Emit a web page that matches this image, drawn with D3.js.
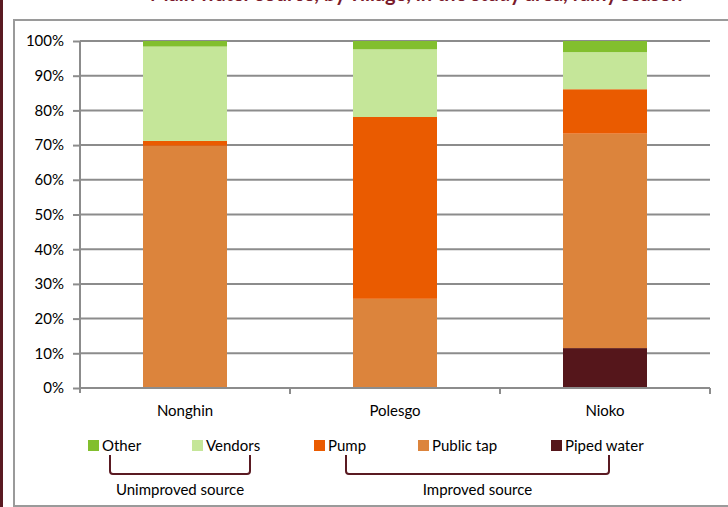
<!DOCTYPE html>
<html>
<head>
<meta charset="utf-8">
<script src="https://cdn.jsdelivr.net/npm/d3@7"></script>
<style>
  body { margin: 0; background: #fff; }
  svg { display: block; font-family: Lato, "Open Sans", sans-serif; }
</style>
</head>
<body>
<script>
// data (percent of households)
var categories = ["Nonghin", "Polesgo", "Nioko"];
var seriesNames = ["Piped water", "Public tap", "Pump", "Vendors", "Other"];
var pipedWater = [0, 0, 11.5];
var publicTap = [69.8, 25.7, 61.8];
var pump = [1.4, 52.4, 12.8];
var vendors = [27.2, 19.5, 10.7];
var other = [1.6, 2.4, 3.2];
var yTicks = [0, 10, 20, 30, 40, 50, 60, 70, 80, 90, 100];
var groups = [
  { label: "Unimproved source", from: "Other", to: "Vendors" },
  { label: "Improved source", from: "Pump", to: "Piped water" }
];

var colors = {
  "Piped water": "#55161b",
  "Public tap": "#dc843c",
  "Pump": "#ea5b00",
  "Vendors": "#c5e699",
  "Other": "#82bf2e"
};

var W = 728, H = 507;
var svg = d3.select("body").append("svg").attr("width", W).attr("height", H);

// page decoration: left rule, clipped title and chart frame
svg.append("rect").attr("x", 0).attr("y", 0).attr("width", 3).attr("height", H).attr("fill", "#5a1a22");
svg.append("text").attr("x", 150).attr("y", 1).attr("fill", "#7a1a2a")
  .style("font-size", "20px").style("font-weight", "bold")
  .text("Main water source, by village, in the study area, rainy season");
svg.append("rect").attr("x", 14).attr("y", 20).attr("width", W).attr("height", 486)
  .attr("fill", "#fff").attr("stroke", "#9a9a9a").attr("stroke-width", 2);

var table = categories.map(function (c, i) {
  return { cat: c, "Piped water": pipedWater[i], "Public tap": publicTap[i], "Pump": pump[i], "Vendors": vendors[i], "Other": other[i] };
});
var stacked = d3.stack().keys(seriesNames)(table);

var x = d3.scaleBand().domain(categories).range([80, 710]).paddingInner(0.6).paddingOuter(0.3);
var xb = d3.scaleBand().domain(categories).range([80, 710]);
var y = d3.scaleLinear().domain([0, 100]).range([388, 41]);

// grid lines
svg.append("g").selectAll("line").data(yTicks.slice(1)).join("line")
  .attr("x1", 80).attr("x2", 710)
  .attr("y1", function (d) { return y(d); }).attr("y2", function (d) { return y(d); })
  .attr("stroke", "#8c8c8c").attr("stroke-width", 2);

// bars
svg.append("g").selectAll("g").data(stacked).join("g")
  .attr("fill", function (d) { return colors[d.key]; })
  .selectAll("rect").data(function (d) { return d; }).join("rect")
  .attr("x", function (d) { return x(d.data.cat); })
  .attr("width", x.bandwidth())
  .attr("y", function (d) { return y(d[1]); })
  .attr("height", function (d) { return y(d[0]) - y(d[1]); });

// y axis
var yAxis = d3.axisLeft(y).tickValues(yTicks).tickSize(7).tickPadding(9)
  .tickFormat(function (d) { return d + "%"; });
var yg = svg.append("g").attr("transform", "translate(80,0)").call(yAxis);
yg.select(".domain").attr("stroke", "#8c8c8c").attr("stroke-width", 2).attr("d", "M0,41V393");
yg.selectAll(".tick line").attr("stroke", "#8c8c8c").attr("stroke-width", 2);
yg.selectAll("text").attr("fill", "#000").style("font-size", "15px").style("font-family", "Lato, sans-serif");

// x axis
var xAxis = d3.axisBottom(xb).tickSize(0).tickPadding(17);
var xg = svg.append("g").attr("transform", "translate(0,388)").call(xAxis);
xg.select(".domain").attr("stroke", "#8c8c8c").attr("stroke-width", 2).attr("d", "M80,0H710");
xg.selectAll("text").attr("fill", "#000").style("font-size", "15px").style("font-family", "Lato, sans-serif");
xg.append("g").selectAll("line").data(categories).join("line")
  .attr("x1", function (d) { return xb(d) + xb.bandwidth(); })
  .attr("x2", function (d) { return xb(d) + xb.bandwidth(); })
  .attr("y1", 0).attr("y2", 6).attr("stroke", "#8c8c8c").attr("stroke-width", 2);

// legend
var legendOrder = seriesNames.slice().reverse();
var legendX = { "Other": 88, "Vendors": 192, "Pump": 314, "Public tap": 418, "Piped water": 551 };
var lg = svg.append("g").selectAll("g").data(legendOrder).join("g")
  .attr("transform", function (d) { return "translate(" + legendX[d] + ",440)"; });
lg.append("rect").attr("width", 11).attr("height", 11).attr("fill", function (d) { return colors[d]; });
lg.append("text").attr("x", 14).attr("y", 10.5).attr("fill", "#000").style("font-size", "15px").text(function (d) { return d; });

// brackets grouping the legend entries
var bracketEnds = { "Other": 110, "Vendors": 250, "Pump": 346, "Piped water": 609 };
groups.forEach(function (g) {
  var x1 = bracketEnds[g.from], x2 = bracketEnds[g.to];
  svg.append("path")
    .attr("d", "M" + x1 + ",455 L" + x1 + ",471 Q" + x1 + ",474 " + (x1 + 3) + ",474 L" + (x2 - 3) + ",474 Q" + x2 + ",474 " + x2 + ",471 L" + x2 + ",455")
    .attr("fill", "none").attr("stroke", "#5a1a22").attr("stroke-width", 2);
  svg.append("text").attr("x", (x1 + x2) / 2).attr("y", 495).attr("text-anchor", "middle")
    .attr("fill", "#000").style("font-size", "15px").text(g.label);
});
</script>
</body>
</html>
